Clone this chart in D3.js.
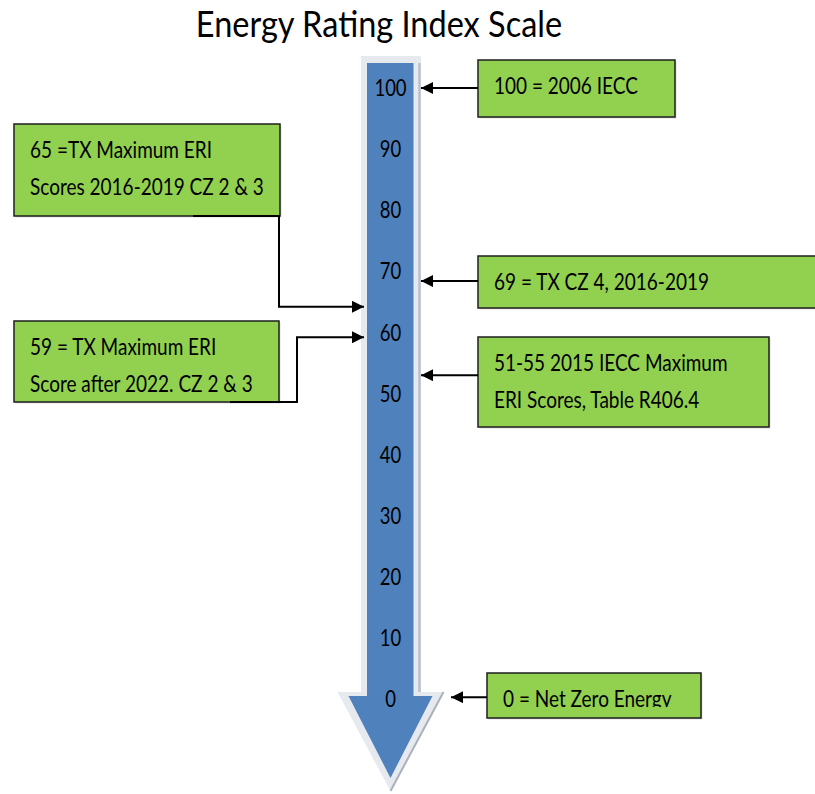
<!DOCTYPE html>
<html>
<head>
<meta charset="utf-8">
<script src="https://cdn.jsdelivr.net/npm/d3@7"></script>
<style>
  body { margin: 0; background: #fff; }
  text { font-family: Lato, "Open Sans", sans-serif; fill: #000; }
</style>
</head>
<body>
<svg id="chart" width="815" height="794"></svg>
<script>
// data
const chartTitle = 'Energy Rating Index Scale';
const scaleTicks = [0, 10, 20, 30, 40, 50, 60, 70, 80, 90, 100];
const noteLines = [
  ['100 = 2006 IECC'],
  ['65 =TX Maximum ERI', 'Scores 2016-2019 CZ 2 & 3'],
  ['59 = TX Maximum ERI', 'Score after 2022. CZ 2 & 3'],
  ['69 = TX CZ 4, 2016-2019'],
  ['51-55 2015 IECC Maximum', 'ERI Scores, Table R406.4'],
  ['0 = Net Zero Energy']
];
// where each pointer hits the scale
const notePointValues = [100, 64.2, 59.2, 68.4, 53, 0.3];

// layout of the callout boxes (not data)
const noteBoxes = [
  { x: 478, y: 60, w: 197, h: 57, side: 'right', tipX: 421 },
  { x: 14, y: 124, w: 266, h: 92, side: 'left', startX: 193, elbowX: 279, tipX: 364 },
  { x: 14, y: 321, w: 265, h: 81, side: 'left', startX: 230, elbowX: 297, tipX: 364 },
  { x: 478, y: 256, w: 345, h: 52, side: 'right', tipX: 421 },
  { x: 478, y: 337, w: 291, h: 90, side: 'right', tipX: 421 },
  { x: 487, y: 673, w: 214, h: 45, side: 'right', tipX: 451, clipH: 34 }
];

const stretch = 1.22; // glyphs in the original are taller than wide
const green = '#92d050';
const blue = '#4f81bd';

const svg = d3.select('#chart');
const y = d3.scaleLinear().domain([0, 100]).range([699, 88]);
const cx = 390.5;
const line = d3.line();

// Title (placed on its baseline so it stays inside the top edge)
svg.append('text')
  .attr('transform', `translate(379, 37) scale(1, 1.1)`)
  .attr('text-anchor', 'middle')
  .style('font-size', '32.5px')
  .text(chartTitle);

// Arrow - outer light rim
const outer = [
  [cx - 29.5, y(100) - 32], [cx + 30.5, y(100) - 32], [cx + 30.5, y(0) - 7],
  [cx + 53, y(0) - 7], [cx, y(0) + 92], [cx - 53, y(0) - 7], [cx - 29.5, y(0) - 7]
];
svg.append('path')
  .attr('d', line(outer) + 'Z')
  .attr('fill', '#e6eaef');

// gray shading on right side
svg.append('path')
  .attr('d', line([[cx + 29, y(100) - 25], [cx + 29, y(0) - 7]]))
  .attr('stroke', '#b9c0c9')
  .attr('stroke-width', 2.5)
  .attr('fill', 'none');
svg.append('path')
  .attr('d', line([[cx + 53, y(0) - 7], [cx, y(0) + 92]]))
  .attr('stroke', '#aab1ba')
  .attr('stroke-width', 2)
  .attr('fill', 'none');

const inner = [
  [cx - 23.5, y(100) - 25], [cx + 23, y(100) - 25], [cx + 23, y(0) - 3],
  [cx + 42, y(0) - 3], [cx, y(0) + 79], [cx - 42, y(0) - 3], [cx - 23.5, y(0) - 3]
];
svg.append('path')
  .attr('d', line(inner) + 'Z')
  .attr('fill', blue);

// tick labels
svg.append('g')
  .selectAll('text')
  .data(scaleTicks)
  .join('text')
  .attr('transform', d => `translate(${cx}, ${y(d)}) scale(1, ${stretch})`)
  .attr('text-anchor', 'middle')
  .attr('dy', '0.36em')
  .style('font-size', '18.5px')
  .text(d => d);

// arrowhead marker
svg.append('defs').append('marker')
  .attr('id', 'head')
  .attr('viewBox', '0 0 12 12')
  .attr('refX', 12)
  .attr('refY', 6)
  .attr('markerWidth', 12)
  .attr('markerHeight', 12)
  .attr('markerUnits', 'userSpaceOnUse')
  .attr('orient', 'auto')
  .append('path')
  .attr('d', 'M0,0L12,6L0,12Z')
  .attr('fill', '#000');

const notesG = svg.append('g');

noteLines.forEach((lines, i) => {
  const b = noteBoxes[i];
  const yPt = y(notePointValues[i]);

  // connector
  let pts;
  if (b.side === 'right') {
    pts = [[b.x, yPt], [b.tipX, yPt]];
  } else {
    const by = b.y + b.h;
    pts = [[b.startX, by], [b.elbowX, by], [b.elbowX, yPt], [b.tipX, yPt]];
  }

  const g = notesG.append('g');

  g.append('rect')
    .attr('x', b.x + 1.5)
    .attr('y', b.y + 1.5)
    .attr('width', b.w)
    .attr('height', b.h)
    .attr('fill', '#c8c8c8')
    .attr('opacity', 0.6);

  g.append('rect')
    .attr('x', b.x)
    .attr('y', b.y)
    .attr('width', b.w)
    .attr('height', b.h)
    .attr('fill', green)
    .attr('stroke', '#1e1e1e')
    .attr('stroke-width', 1.5);

  const textG = g.append('g');
  if (b.clipH) {
    svg.select('defs').append('clipPath')
      .attr('id', `clip${i}`)
      .append('rect')
      .attr('x', b.x)
      .attr('y', b.y)
      .attr('width', b.w)
      .attr('height', b.clipH);
    textG.attr('clip-path', `url(#clip${i})`);
  }

  textG.selectAll('text')
    .data(lines)
    .join('text')
    .attr('transform', (d, k) => `translate(${b.x + 16}, ${b.y + 26 + k * 37}) scale(1, ${stretch})`)
    .attr('dy', '0.36em')
    .style('font-size', '19px')
    .text(d => d);

  g.append('path')
    .attr('d', line(pts))
    .attr('stroke', '#000')
    .attr('stroke-width', 2)
    .attr('fill', 'none')
    .attr('marker-end', 'url(#head)');
});
</script>
</body>
</html>
